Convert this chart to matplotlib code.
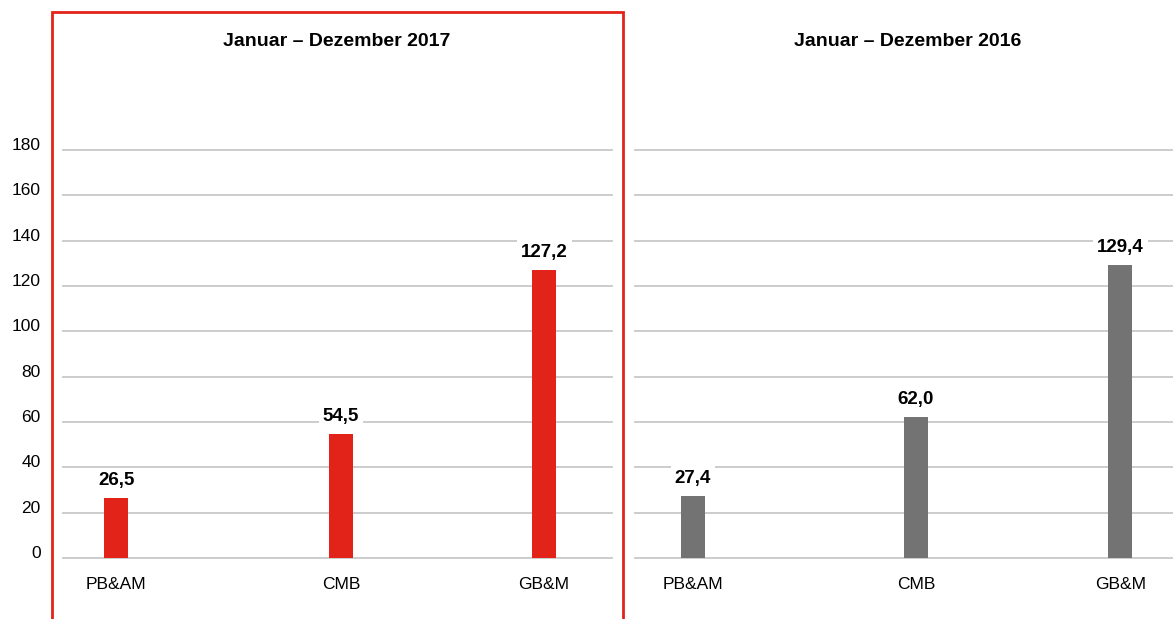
import matplotlib.pyplot as plt
from matplotlib.patches import Rectangle

categories = ["PB&AM", "CMB", "GB&M"]
values_2017 = [26.5, 54.5, 127.2]
values_2016 = [27.4, 62.0, 129.4]
title_2017 = "Januar – Dezember 2017"
title_2016 = "Januar – Dezember 2016"
yticks = [0, 20, 40, 60, 80, 100, 120, 140, 160, 180]

RED = "#e2231a"
GREY = "#737373"
GRID = "#c8c8c8"
FONT = "Liberation Sans"

W, H = 1173, 619
fig = plt.figure(figsize=(W / 100, H / 100), dpi=100)


def make_panel(left, right, xpos, xlim, vals, color, title, title_x, show_y):
    ax = fig.add_axes([left / W, 1 - 558 / H, (right - left) / W, (558 - 150) / H])
    ax.bar(xpos, vals, width=0.105, color=color, zorder=3)
    for x, v in zip(xpos, vals):
        ax.text(x, v + 4, f"{v:.1f}".replace(".", ","), ha="center", va="bottom",
                fontsize=13.5, fontweight="bold", family=FONT, zorder=4,
                bbox=dict(facecolor="white", edgecolor="none", pad=3))
    ax.set_xlim(*xlim)
    ax.set_ylim(0, 180)
    ax.set_yticks(yticks)
    ax.yaxis.grid(True, color=GRID, linewidth=1.3, zorder=0)
    for line in ax.get_ygridlines():
        line.set_clip_on(False)
    ax.set_axisbelow(True)
    ax.set_xticks(xpos)
    ax.set_xticklabels(categories, family=FONT, fontsize=12.5)
    ax.tick_params(axis="x", length=0, pad=14)
    if show_y:
        ax.tick_params(axis="y", length=0, pad=16, labelsize=12.5)
        for lab in ax.get_yticklabels():
            lab.set_family(FONT)
            lab.set_va("baseline")
    else:
        ax.tick_params(axis="y", length=0, labelleft=False)
    for s in ax.spines.values():
        s.set_visible(False)
    fig.text(title_x / W, 1 - 41 / H, title, ha="center", va="center",
             fontsize=14, fontweight="bold", family=FONT)
    return ax


make_panel(63, 612, [0, 1, 1.902], (-0.236, 2.204), values_2017, RED, title_2017, 337, True)
make_panel(635, 1173, [0, 1, 1.915], (-0.26, 2.152), values_2016, GREY, title_2016, 908, False)

# red frame around the current year panel (open past the bottom edge)
fig.patches.append(Rectangle((52 / W, -0.05), (623 - 52) / W, 1.05 - 12 / H,
                             transform=fig.transFigure, fill=False,
                             edgecolor=RED, linewidth=2))

fig.savefig("out.png", dpi=100)
